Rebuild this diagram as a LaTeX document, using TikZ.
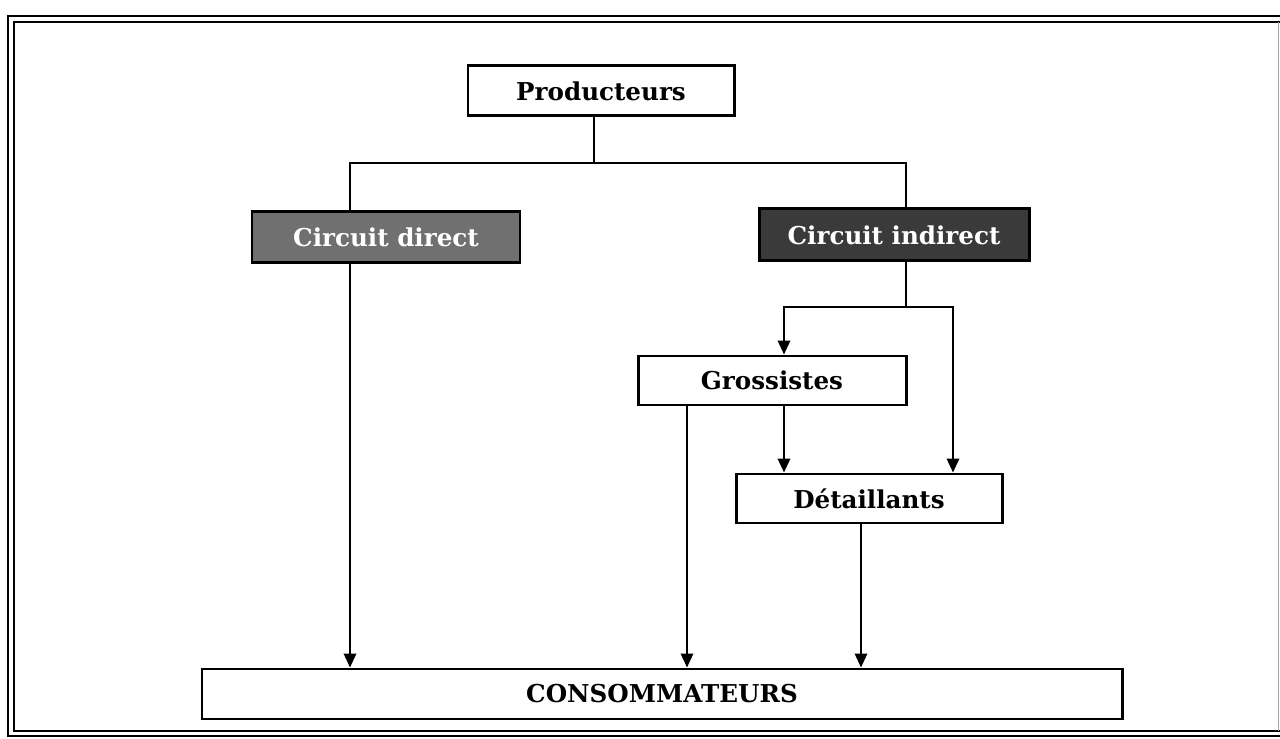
\documentclass[tikz,border=0pt]{standalone}
\usepackage{fontspec}
\setmainfont{DejaVu Serif}
\usetikzlibrary{arrows.meta}
\usetikzlibrary{positioning}
\definecolor{directgray}{RGB}{112,112,112}
\definecolor{indirectgray}{RGB}{58,58,58}

\begin{document}
\begin{tikzpicture}[
  box/.style={draw=black,line width=1.7pt,fill=white,minimum height=1cm,inner sep=0pt,font=\fontsize{14}{17}\selectfont\bfseries,text=black},
  circuitbox/.style={box,text=white},
  link/.style={black,line width=1.1pt},
  arr/.style={link,-{Triangle[length=0.28cm,width=0.25cm]}},
  twoarr/.style={link,{Triangle[length=0.28cm,width=0.25cm]}-{Triangle[length=0.28cm,width=0.25cm]}}]
\useasboundingbox (0,0) rectangle (25.6,14.78);
\clip (0,0) rectangle (25.6,14.78);

% cadre double, ouvert a droite
\draw[black,line width=1.1pt] (25.6,14.46) -- (0.16,14.46) -- (0.16,0.06) -- (25.6,0.06);
\draw[black,line width=1.1pt] (25.6,14.34) -- (0.28,14.34) -- (0.28,0.16) -- (25.6,0.16);
\draw[black!35,very thin] (25.56,14.34) -- (25.56,0.16);

% boites
\node[box,minimum width=5.32cm] (prod) at (12.02,12.96) {Producteurs};
\node[circuitbox,fill=directgray,minimum width=5.36cm,minimum height=1.02cm] (direct) at (7.72,10.03) {Circuit direct};
\node[circuitbox,fill=indirectgray,minimum width=5.4cm,minimum height=1.04cm] (indirect) at (17.88,10.08) {Circuit indirect};
\node[box,minimum width=5.36cm,minimum height=0.98cm] (gros) at (15.44,7.17) {Grossistes};
\node[box,minimum width=5.32cm,minimum height=0.98cm] (det) at (17.38,4.81) {Détaillants};
\node[box,minimum width=18.4cm] (cons) at (13.24,0.9) {CONSOMMATEURS};

% embranchements
\coordinate (fork) at (11.88,11.52);
\coordinate (forkL) at (7.0,11.52);
\coordinate (forkR) at (18.12,11.52);
\coordinate (split) at (18.12,8.64);
\coordinate (splitL) at (15.68,8.64);
\coordinate (splitR) at (19.06,8.64);
\coordinate (grosX) at (13.74,0);
\coordinate (detX) at (17.22,0);

\draw[link] (prod.south -| fork) -- (fork);
\draw[link] (forkL |- direct.north) -- (forkL) -- (forkR) -- (forkR |- indirect.north);
\draw[arr] (forkL |- direct.south) -- (forkL |- cons.north);
\draw[link] (forkR |- indirect.south) -- (split);
\draw[twoarr] (splitL |- gros.north) -- (splitL) -- (splitR) -- (splitR |- det.north);
\draw[arr] (gros.south -| splitL) -- (det.north -| splitL);
\draw[arr] (gros.south -| grosX) -- (cons.north -| grosX);
\draw[arr] (det.south -| detX) -- (cons.north -| detX);

\end{tikzpicture}
\end{document}
